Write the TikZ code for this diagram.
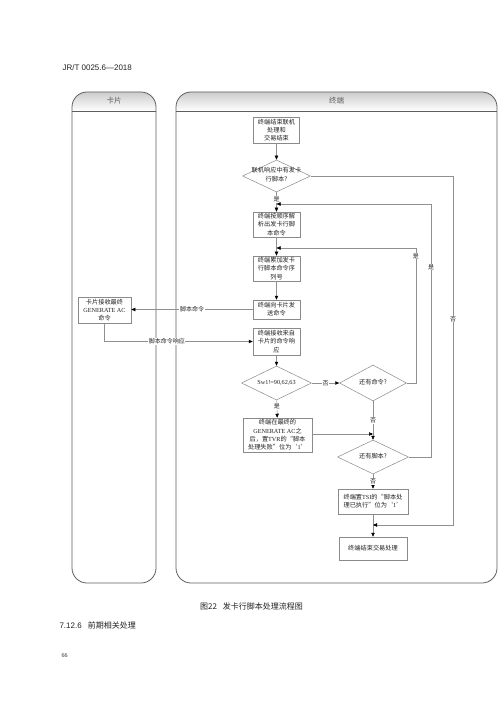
\documentclass[tikz,border=0pt]{standalone}
\usepackage{fontspec}
\setmainfont{Liberation Serif}
\newfontfamily\cjk{Noto Sans CJK SC}
\newfontfamily\hdsans{Liberation Sans}
\usetikzlibrary{shapes.geometric,arrows.meta}
\definecolor{boxc}{HTML}{8A8A8A}
\definecolor{linec}{HTML}{909090}
\definecolor{lanec}{HTML}{5E5E5E}
\definecolor{txtc}{HTML}{222222}
\newcommand{\lat}[1]{{\rmfamily #1}}
\newcommand{\dtext}[1]{\makebox[0pt]{\raisebox{-1.6pt}{\smash{\begin{tabular}{@{}c@{}}#1\end{tabular}}}}}
\begin{document}
\begin{tikzpicture}[x=1pt,y=-1pt,
  box/.style={draw=boxc,line width=0.5pt,fill=white,align=center,inner sep=0.5pt,text=txtc,
    font=\cjk\fontsize{6.2}{8.2}\selectfont},
  dia/.style={diamond,draw=boxc,line width=0.5pt,fill=white,inner sep=0pt,text=txtc,
    font=\cjk\fontsize{6.2}{8.6}\selectfont},
  lbl/.style={fill=white,inner sep=0.6pt,text=txtc,font=\cjk\fontsize{6}{6}\selectfont},
  conn/.style={draw=linec,line width=0.5pt},
  arr/.style={conn,-{Triangle[length=4pt,width=3.4pt,color=black,fill=black]}},
  lanebd/.style={draw=lanec,line width=0.8pt,rounded corners=15pt},
  lanehd/.style={text=lanec,font=\cjk\fontsize{7.5}{7.5}\selectfont}]
\useasboundingbox (0,0) rectangle (500,708);
\fill[white] (0,0) rectangle (500,708);

% page texts
\node[anchor=west,text=txtc,font=\hdsans\fontsize{8}{8}\selectfont] (hdr) at (59,68) {JR/T 0025.6—2018};
\node[text=txtc,font=\cjk\fontsize{8}{8}\selectfont] (cap) at (251.5,606) {图22\hspace{6pt}发卡行脚本处理流程图};
\node[anchor=west,text=txtc,font=\cjk\fontsize{8}{8}\selectfont] (sec) at (56,625) {\hdsans 7.12.6\hspace{6pt}\cjk 前期相关处理};
\node[anchor=west,text=txtc,font=\rmfamily\fontsize{6}{6}\selectfont] (pg) at (58,656) {66};

% swimlanes
\begin{scope}
  \clip[rounded corners=15pt] (72,92) rectangle (156,583);
  \shade[top color=gray!40,bottom color=white] (72,92) rectangle (156,111);
\end{scope}
\begin{scope}
  \clip[rounded corners=15pt] (176,92) rectangle (497,583);
  \shade[top color=gray!40,bottom color=white] (176,92) rectangle (497,111);
\end{scope}
\draw[lanebd] (72,92) rectangle (156,583);
\draw[lanebd] (176,92) rectangle (497,583);
\draw[draw=lanec,line width=0.6pt] (72,111) -- (156,111);
\draw[draw=lanec,line width=0.6pt] (176,111) -- (497,111);
\node[lanehd] (cardhead) at (114,101) {卡片};
\node[lanehd] (termhead) at (336.5,101) {终端};

% nodes
\node[box,minimum width=46pt,minimum height=26pt] (b1) at (276.5,130) {终端结束联机\\处理和\\交易结束};
\node[dia,minimum width=68pt,minimum height=32pt] (d1) at (276.5,176) {\dtext{联机响应中有发卡\\行脚本?}};
\node[box,minimum width=47pt,minimum height=25pt] (b2) at (276.5,224.5) {终端按顺序解\\析出发卡行脚\\本命令};
\node[box,minimum width=47pt,minimum height=25pt] (b3) at (276.5,268.5) {终端累加发卡\\行脚本命令序\\列号};
\node[box,minimum width=47pt,minimum height=19pt] (b4) at (276.5,309.5) {终端向卡片发\\送命令};
\node[box,minimum width=53pt,minimum height=26pt] (card) at (104.5,310) {卡片接收最终\\\lat{GENERATE AC}\\命令};
\node[box,minimum width=47pt,minimum height=27pt] (b5) at (276.5,341.5) {终端接收来自\\卡片的命令响\\应};
\node[dia,minimum width=70pt,minimum height=34pt] (d2) at (276.5,383) {\dtext{\lat{Sw1!=90,62,63}}};
\node[dia,minimum width=67pt,minimum height=36pt] (d3) at (373,383) {\dtext{还有命令?}};
\node[box,minimum width=69pt,minimum height=34pt,font=\cjk\fontsize{6.2}{8.4}\selectfont] (b6) at (277.5,435) {终端在最终的\\\lat{GENERATE AC}之\\后，置\lat{TVR}的“脚本\\处理失败”位为‘\lat{1}’};
\node[dia,minimum width=71pt,minimum height=34pt] (d4) at (373,457) {\dtext{还有脚本?}};
\node[box,minimum width=70pt,minimum height=25pt] (b7) at (373,501.5) {终端置\lat{TSI}的“脚本处\\理已执行”位为‘\lat{1}’};
\node[box,minimum width=68pt,minimum height=23pt] (b8) at (373,548.5) {终端结束交易处理};

% junction points on existing lines
\coordinate (j2) at (276.5,204);
\coordinate (j1) at (276.5,248);
\coordinate (j3) at (373,434);
\coordinate (j4) at (373,525);

% connectors
\draw[arr] (b1) -- (d1);
\draw[arr] (d1) -- node[lbl,pos=0.38] {是} (b2);
\draw[arr] (b2) -- (b3);
\draw[arr] (b3) -- (b4);
\draw[arr] (b4.west) -- node[lbl] {脚本命令} (b4.west -| card.east);
\draw[arr] (card.south) |- node[lbl,pos=0.71] {脚本命令响应} (b5.west);
\draw[arr] (b5) -- (d2);
\draw[arr] (d2.east) -- node[lbl] {否} (d2.east -| d3.west);
\draw[arr] (d2) -- node[lbl,pos=0.35] {是} (b6);
\draw[arr] (d3) -- node[lbl] {否} (d4);
\draw[arr] (b6.east |- j3) -- (j3);
\draw[arr] (d3.east) -- ++(9,0) |- node[lbl,pos=0.47] {是} (j1);
\draw[arr] (d4.east) -- (431,457) |- node[lbl,pos=0.375] {是} (j2);
\draw[arr] (d4) -- node[lbl] {否} (b7);
\draw[arr] (b7) -- (b8);
\draw[arr] (d1.east) -- (453,176) |- node[lbl,pos=0.205] {否} (j4);
\end{tikzpicture}
\end{document}
